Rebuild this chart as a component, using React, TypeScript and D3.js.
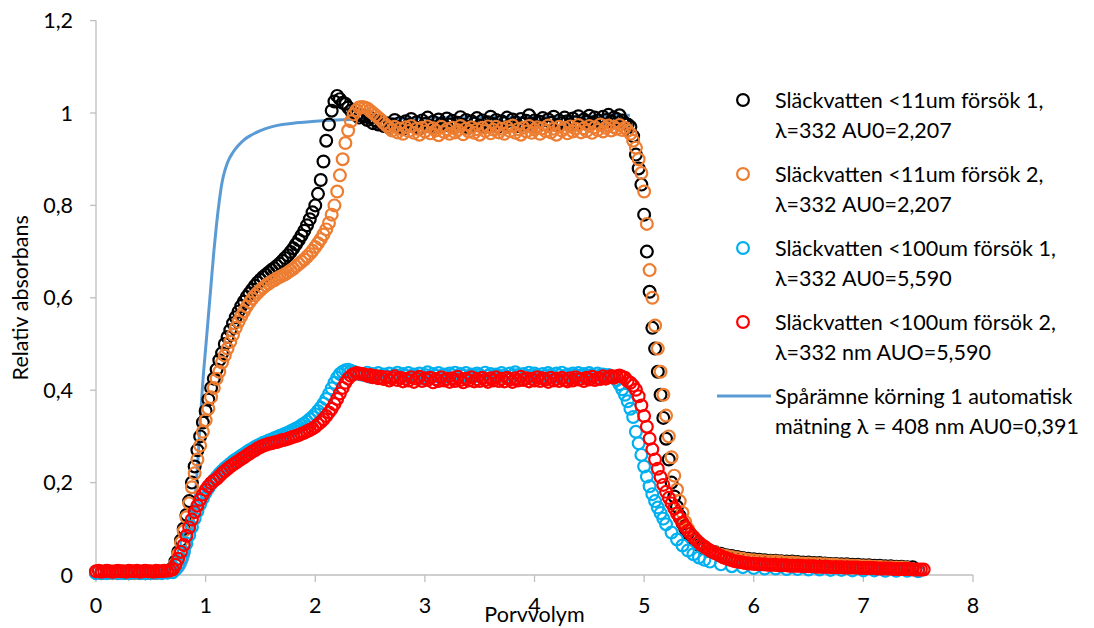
import React from "react";
import * as d3 from "d3";

type Pt = [number, number];

// Axis ticks
const xTicks = [0, 1, 2, 3, 4, 5, 6, 7, 8];
const yTicks = [0, 0.2, 0.4, 0.6, 0.8, 1, 1.2];
const yTickLabels = ["0", "0,2", "0,4", "0,6", "0,8", "1", "1,2"];

const xTitle = "Porvvolym";
const yTitle = "Relativ absorbans";

// Readings taken at a fixed pore-volume interval
function onGrid(start: number, step: number, values: number[]): Pt[] {
  return values.map((v, i) => [+(start + i * step).toFixed(4), v] as Pt);
}

const PLATEAU_START = 2.45;
const PLATEAU_STEP = 0.025;

// ---------- Släckvatten <11um försök 1 ----------
const fw11Run1Front: Pt[] = [
  [0, 0.006], [0.05, 0.005], [0.1, 0.005], [0.15, 0.006], [0.2, 0.005], [0.25, 0.005], [0.3, 0.004], [0.35, 0.005],
  [0.4, 0.005], [0.45, 0.004], [0.5, 0.005], [0.55, 0.005], [0.6, 0.006], [0.65, 0.008],
  [0.7, 0.015], [0.725, 0.03], [0.75, 0.05], [0.775, 0.075], [0.8, 0.1], [0.825, 0.13], [0.85, 0.16], [0.875, 0.2],
  [0.9, 0.235], [0.925, 0.27], [0.95, 0.3], [0.975, 0.33], [1, 0.355], [1.025, 0.38], [1.05, 0.405], [1.075, 0.425],
  [1.1, 0.445], [1.125, 0.465], [1.15, 0.48], [1.175, 0.5], [1.2, 0.515], [1.225, 0.53], [1.25, 0.545], [1.275, 0.558],
  [1.3, 0.57], [1.325, 0.582], [1.35, 0.592], [1.375, 0.602], [1.4, 0.61], [1.425, 0.618], [1.45, 0.626], [1.475, 0.633],
  [1.5, 0.639], [1.525, 0.645], [1.55, 0.65], [1.575, 0.655], [1.6, 0.66], [1.625, 0.664], [1.65, 0.669], [1.675, 0.674],
  [1.7, 0.68], [1.725, 0.686], [1.75, 0.692], [1.775, 0.699], [1.8, 0.707], [1.825, 0.716], [1.85, 0.725], [1.875, 0.735],
  [1.9, 0.745], [1.925, 0.757], [1.95, 0.77], [1.975, 0.785], [2, 0.8], [2.025, 0.825], [2.05, 0.855], [2.075, 0.895],
  [2.1, 0.94], [2.125, 0.975], [2.15, 1.005], [2.175, 1.025], [2.2, 1.037], [2.225, 1.03], [2.25, 1.022], [2.275, 1.02],
  [2.3, 1.012], [2.325, 1.005], [2.35, 1.0], [2.375, 0.995], [2.4, 0.99], [2.425, 0.995],
];
const fw11Run1Plateau = [
  0.992, 0.985, 0.99, 0.978, 0.984, 0.975, 0.981, 0.972,
  0.978, 0.968, 0.975, 0.985, 0.97, 0.979, 0.966, 0.982,
  0.974, 0.987, 0.971, 0.98, 0.967, 0.984, 0.976, 0.99,
  0.972, 0.981, 0.969, 0.986, 0.977, 0.973, 0.988, 0.975,
  0.983, 0.97, 0.979, 0.991, 0.974, 0.985, 0.968, 0.982,
  0.977, 0.989, 0.973, 0.984, 0.97, 0.98, 0.992, 0.976,
  0.985, 0.971, 0.982, 0.978, 0.99, 0.974, 0.986, 0.98,
  0.972, 0.987, 0.977, 0.983, 0.995, 0.976, 0.984, 0.97,
  0.981, 0.989, 0.975, 0.986, 0.979, 0.992, 0.974, 0.984,
  0.978, 0.99, 0.982, 0.975, 0.988, 0.98, 0.993, 0.977,
  0.986, 0.981, 0.994, 0.979, 0.99, 0.984, 0.977, 0.992,
  0.985, 0.996, 0.982, 0.99, 0.987, 0.995, 0.984, 0.978,
];
const fw11Run1Back: Pt[] = [
  [4.85, 0.975], [4.875, 0.97], [4.9, 0.95], [4.925, 0.91], [4.95, 0.88], [4.975, 0.845], [5, 0.78], [5.025, 0.7],
  [5.05, 0.613], [5.075, 0.535], [5.1, 0.49], [5.125, 0.44], [5.15, 0.39], [5.175, 0.34], [5.2, 0.295], [5.225, 0.25],
  [5.25, 0.2], [5.275, 0.17], [5.3, 0.148], [5.325, 0.128], [5.35, 0.112], [5.375, 0.1], [5.4, 0.09], [5.45, 0.077],
  [5.5, 0.065], [5.55, 0.058], [5.6, 0.052],
];
const fw11Run1Tail = [
  0.049, 0.046, 0.043, 0.041, 0.039, 0.037, 0.035, 0.034,
  0.033, 0.032, 0.031, 0.031, 0.03, 0.029, 0.029, 0.028,
  0.027, 0.027, 0.026, 0.026, 0.025, 0.024, 0.024, 0.023,
  0.023, 0.022, 0.022, 0.021, 0.021, 0.02, 0.02, 0.019,
  0.019, 0.018, 0.018, 0.017, 0.017,
];

// ---------- Släckvatten <11um försök 2 ----------
const fw11Run2Front: Pt[] = [
  [0, 0.004], [0.05, 0.004], [0.1, 0.005], [0.15, 0.004], [0.2, 0.004], [0.25, 0.005], [0.3, 0.004], [0.35, 0.004],
  [0.4, 0.005], [0.45, 0.004], [0.5, 0.004], [0.55, 0.005], [0.6, 0.005], [0.65, 0.007],
  [0.7, 0.012], [0.725, 0.025], [0.75, 0.045], [0.775, 0.07], [0.8, 0.095], [0.825, 0.125], [0.85, 0.155], [0.875, 0.19],
  [0.9, 0.22], [0.925, 0.25], [0.95, 0.28], [0.975, 0.31], [1, 0.335], [1.025, 0.36], [1.05, 0.385], [1.075, 0.405],
  [1.1, 0.425], [1.125, 0.44], [1.15, 0.46], [1.175, 0.475], [1.2, 0.49], [1.225, 0.505], [1.25, 0.52], [1.275, 0.535],
  [1.3, 0.548], [1.325, 0.56], [1.35, 0.571], [1.375, 0.581], [1.4, 0.59], [1.425, 0.598], [1.45, 0.605], [1.475, 0.611],
  [1.5, 0.617], [1.525, 0.622], [1.55, 0.627], [1.575, 0.631], [1.6, 0.635], [1.625, 0.638], [1.65, 0.642], [1.675, 0.645],
  [1.7, 0.648], [1.725, 0.651], [1.75, 0.655], [1.775, 0.659], [1.8, 0.663], [1.825, 0.668], [1.85, 0.673], [1.875, 0.678],
  [1.9, 0.683], [1.925, 0.689], [1.95, 0.695], [1.975, 0.702], [2, 0.71], [2.025, 0.718], [2.05, 0.727], [2.075, 0.737],
  [2.1, 0.748], [2.125, 0.762], [2.15, 0.78], [2.175, 0.8], [2.2, 0.83], [2.225, 0.865], [2.25, 0.9], [2.275, 0.935],
  [2.3, 0.962], [2.325, 0.982], [2.35, 0.997], [2.375, 1.006], [2.4, 1.012], [2.425, 1.013],
];
const fw11Run2Plateau = [
  1.012, 1.01, 1.005, 1.0, 0.995, 0.99, 0.985, 0.978,
  0.973, 0.968, 0.962, 0.97, 0.958, 0.966, 0.955, 0.969,
  0.961, 0.972, 0.957, 0.966, 0.953, 0.968, 0.96, 0.971,
  0.956, 0.967, 0.962, 0.952, 0.97, 0.959, 0.965, 0.955,
  0.968, 0.958, 0.963, 0.972, 0.954, 0.966, 0.96, 0.969,
  0.957, 0.965, 0.953, 0.968, 0.961, 0.971, 0.956, 0.964,
  0.97, 0.958, 0.966, 0.955, 0.969, 0.961, 0.973, 0.957,
  0.965, 0.953, 0.968, 0.96, 0.972, 0.957, 0.964, 0.969,
  0.955, 0.967, 0.961, 0.973, 0.958, 0.966, 0.953, 0.97,
  0.962, 0.968, 0.956, 0.971, 0.96, 0.966, 0.974, 0.958,
  0.967, 0.961, 0.972, 0.957, 0.969, 0.963, 0.975, 0.96,
  0.968, 0.973, 0.962, 0.97, 0.966, 0.974, 0.963, 0.968,
];
const fw11Run2Back: Pt[] = [
  [4.85, 0.962], [4.875, 0.955], [4.9, 0.94], [4.925, 0.925], [4.95, 0.9], [4.975, 0.87], [5, 0.83], [5.025, 0.76],
  [5.05, 0.66], [5.075, 0.6], [5.1, 0.54], [5.125, 0.49], [5.15, 0.44], [5.175, 0.39], [5.2, 0.345], [5.225, 0.3],
  [5.25, 0.255], [5.275, 0.215], [5.3, 0.185], [5.325, 0.16], [5.35, 0.135], [5.375, 0.115], [5.4, 0.1], [5.45, 0.083],
  [5.5, 0.07], [5.55, 0.061], [5.6, 0.053],
];
const fw11Run2Tail = [
  0.048, 0.044, 0.041, 0.039, 0.037, 0.035, 0.033, 0.032,
  0.031, 0.03, 0.029, 0.029, 0.028, 0.027, 0.027, 0.026,
  0.025, 0.025, 0.024, 0.024, 0.023, 0.022, 0.022, 0.021,
  0.021, 0.02, 0.02, 0.019, 0.019, 0.018, 0.018, 0.017,
  0.017, 0.016, 0.016, 0.015,
];

// ---------- Släckvatten <100um försök 1 ----------
const fw100Run1Front: Pt[] = [
  [0, 0.004], [0.05, 0.004], [0.1, 0.004], [0.15, 0.005], [0.2, 0.004], [0.25, 0.004], [0.3, 0.004], [0.35, 0.005],
  [0.4, 0.004], [0.45, 0.004], [0.5, 0.004], [0.55, 0.005], [0.6, 0.004], [0.65, 0.005],
  [0.7, 0.006], [0.725, 0.012], [0.75, 0.022], [0.775, 0.035], [0.8, 0.05], [0.825, 0.068], [0.85, 0.086], [0.875, 0.104],
  [0.9, 0.122], [0.925, 0.138], [0.95, 0.153], [0.975, 0.166], [1, 0.178], [1.025, 0.188], [1.05, 0.197], [1.075, 0.205],
  [1.1, 0.212], [1.125, 0.219], [1.15, 0.225], [1.175, 0.231], [1.2, 0.236], [1.225, 0.241], [1.25, 0.246], [1.275, 0.25],
  [1.3, 0.254], [1.325, 0.258], [1.35, 0.262], [1.375, 0.266], [1.4, 0.27], [1.425, 0.273], [1.45, 0.277], [1.475, 0.28],
  [1.5, 0.283], [1.525, 0.286], [1.55, 0.288], [1.575, 0.291], [1.6, 0.293], [1.625, 0.296], [1.65, 0.298], [1.675, 0.301],
  [1.7, 0.303], [1.725, 0.306], [1.75, 0.308], [1.775, 0.311], [1.8, 0.314], [1.825, 0.317], [1.85, 0.32], [1.875, 0.324],
  [1.9, 0.328], [1.925, 0.332], [1.95, 0.337], [1.975, 0.342], [2, 0.348], [2.025, 0.355], [2.05, 0.362], [2.075, 0.371],
  [2.1, 0.381], [2.125, 0.392], [2.15, 0.404], [2.175, 0.416], [2.2, 0.427], [2.225, 0.435], [2.25, 0.44], [2.275, 0.443],
  [2.3, 0.444], [2.325, 0.442], [2.35, 0.44], [2.375, 0.437], [2.4, 0.435], [2.425, 0.434],
];
const fw100Run1Plateau = [
  0.433, 0.438, 0.429, 0.435, 0.431, 0.437, 0.428, 0.434,
  0.43, 0.436, 0.427, 0.433, 0.438, 0.429, 0.435, 0.431,
  0.437, 0.428, 0.434, 0.43, 0.436, 0.426, 0.433, 0.439,
  0.429, 0.435, 0.431, 0.437, 0.427, 0.434, 0.43, 0.436,
  0.432, 0.438, 0.428, 0.435, 0.431, 0.437, 0.429, 0.434,
  0.43, 0.436, 0.433, 0.428, 0.438, 0.431, 0.435, 0.429,
  0.434, 0.43, 0.437, 0.432, 0.428, 0.436, 0.431, 0.439,
  0.433, 0.429, 0.435, 0.431, 0.438, 0.43, 0.436, 0.432,
  0.428, 0.435, 0.431, 0.437, 0.433, 0.429, 0.436, 0.432,
  0.438, 0.43, 0.434, 0.429, 0.436, 0.432, 0.437, 0.431,
  0.435, 0.43, 0.437, 0.433, 0.429, 0.436, 0.432, 0.434,
];
const fw100Run1Back: Pt[] = [
  [4.65, 0.432], [4.675, 0.433], [4.7, 0.43], [4.725, 0.428], [4.75, 0.422], [4.775, 0.413], [4.8, 0.402], [4.825, 0.39],
  [4.85, 0.376], [4.875, 0.36], [4.9, 0.342], [4.925, 0.31], [4.95, 0.285], [4.975, 0.26], [5, 0.235], [5.025, 0.213],
  [5.05, 0.192], [5.075, 0.175], [5.1, 0.16], [5.125, 0.146], [5.15, 0.134], [5.175, 0.122], [5.2, 0.11], [5.25, 0.092],
  [5.3, 0.077], [5.35, 0.064], [5.4, 0.053], [5.45, 0.045], [5.5, 0.038], [5.55, 0.033], [5.6, 0.029], [5.7, 0.023],
  [5.8, 0.019], [5.9, 0.017], [6, 0.015], [6.1, 0.014], [6.2, 0.014], [6.3, 0.013], [6.4, 0.013], [6.5, 0.012],
  [6.6, 0.012], [6.7, 0.011], [6.8, 0.011], [6.9, 0.01], [7, 0.01], [7.1, 0.01], [7.2, 0.009], [7.3, 0.009],
  [7.4, 0.009], [7.5, 0.008],
];

// ---------- Släckvatten <100um försök 2 ----------
const fw100Run2Base = [
  0.008, 0.009, 0.007, 0.008, 0.009, 0.008, 0.007, 0.008,
  0.009, 0.008, 0.008, 0.007, 0.009, 0.008, 0.008, 0.009,
  0.007, 0.008, 0.009, 0.008, 0.008, 0.007, 0.009, 0.008,
  0.008, 0.009, 0.009, 0.01,
];
const fw100Run2Front: Pt[] = [
  [0.7, 0.012], [0.725, 0.022], [0.75, 0.035], [0.775, 0.05], [0.8, 0.065], [0.825, 0.085], [0.85, 0.103], [0.875, 0.12],
  [0.9, 0.136], [0.925, 0.15], [0.95, 0.163], [0.975, 0.174], [1, 0.184], [1.025, 0.192], [1.05, 0.199], [1.075, 0.204],
  [1.1, 0.208], [1.125, 0.214], [1.15, 0.22], [1.175, 0.225], [1.2, 0.23], [1.225, 0.235], [1.25, 0.239], [1.275, 0.243],
  [1.3, 0.247], [1.325, 0.251], [1.35, 0.255], [1.375, 0.259], [1.4, 0.263], [1.425, 0.267], [1.45, 0.27], [1.475, 0.274],
  [1.5, 0.277], [1.525, 0.28], [1.55, 0.282], [1.575, 0.284], [1.6, 0.285], [1.625, 0.287], [1.65, 0.288], [1.675, 0.29],
  [1.7, 0.292], [1.725, 0.293], [1.75, 0.295], [1.775, 0.297], [1.8, 0.299], [1.825, 0.301], [1.85, 0.303], [1.875, 0.306],
  [1.9, 0.308], [1.925, 0.311], [1.95, 0.314], [1.975, 0.317], [2, 0.321], [2.025, 0.326], [2.05, 0.331], [2.075, 0.337],
  [2.1, 0.344], [2.125, 0.352], [2.15, 0.36], [2.175, 0.37], [2.2, 0.381], [2.225, 0.393], [2.25, 0.405], [2.275, 0.416],
  [2.3, 0.425], [2.325, 0.431], [2.35, 0.435], [2.375, 0.437], [2.4, 0.436], [2.425, 0.435],
];
const fw100Run2Plateau = [
  0.434, 0.431, 0.433, 0.428, 0.431, 0.426, 0.429, 0.424,
  0.428, 0.421, 0.426, 0.43, 0.422, 0.427, 0.419, 0.425,
  0.421, 0.428, 0.418, 0.425, 0.429, 0.42, 0.426, 0.422,
  0.427, 0.417, 0.424, 0.42, 0.428, 0.421, 0.425, 0.418,
  0.426, 0.42, 0.429, 0.422, 0.417, 0.425, 0.421, 0.428,
  0.419, 0.424, 0.42, 0.427, 0.422, 0.418, 0.426, 0.421,
  0.428, 0.42, 0.425, 0.419, 0.427, 0.423, 0.418, 0.426,
  0.421, 0.429, 0.422, 0.426, 0.419, 0.425, 0.421, 0.428,
  0.42, 0.426, 0.423, 0.418, 0.427, 0.421, 0.425, 0.42,
  0.427, 0.422, 0.419, 0.426, 0.421, 0.428, 0.423, 0.425,
  0.42, 0.427, 0.423, 0.429, 0.422, 0.426, 0.424, 0.43,
  0.425, 0.428, 0.431, 0.427, 0.43, 0.432, 0.429, 0.427,
];
const fw100Run2Back: Pt[] = [
  [4.85, 0.42], [4.875, 0.416], [4.9, 0.41], [4.925, 0.401], [4.95, 0.387], [4.975, 0.367], [5, 0.344], [5.025, 0.321],
  [5.05, 0.295], [5.075, 0.272], [5.1, 0.25], [5.125, 0.23], [5.15, 0.212], [5.175, 0.195], [5.2, 0.18], [5.225, 0.167],
  [5.25, 0.155], [5.275, 0.144], [5.3, 0.133], [5.325, 0.123], [5.35, 0.113], [5.375, 0.104], [5.4, 0.096], [5.425, 0.089],
  [5.45, 0.082], [5.475, 0.076], [5.5, 0.07], [5.525, 0.065], [5.55, 0.061], [5.575, 0.057], [5.6, 0.053],
];
const fw100Run2Tail = [
  0.05, 0.047, 0.044, 0.041, 0.038, 0.036, 0.034, 0.032,
  0.03, 0.029, 0.028, 0.027, 0.026, 0.025, 0.025, 0.024,
  0.024, 0.023, 0.023, 0.023, 0.022, 0.022, 0.022, 0.022,
  0.021, 0.021, 0.021, 0.021, 0.02, 0.02, 0.02, 0.02,
  0.02, 0.019, 0.019, 0.019, 0.019, 0.019, 0.018, 0.018,
  0.018, 0.018, 0.018, 0.017, 0.017, 0.017, 0.017, 0.017,
  0.016, 0.016, 0.016, 0.016, 0.016, 0.016, 0.015, 0.015,
  0.015, 0.015, 0.015, 0.015, 0.014, 0.014, 0.014, 0.014,
  0.014, 0.014, 0.013, 0.013, 0.013, 0.013, 0.013, 0.013,
  0.013, 0.012, 0.012, 0.012, 0.012, 0.012,
];

// ---------- Spårämne körning 1 (automatic measurement, drawn as a line) ----------
const tracerRun1: Pt[] = [
  [0, 0], [0.3, 0.001], [0.6, 0.002], [0.75, 0.004], [0.8, 0.015], [0.85, 0.05], [0.875, 0.09], [0.9, 0.15],
  [0.925, 0.23], [0.95, 0.33], [0.975, 0.42], [1, 0.49], [1.025, 0.56], [1.05, 0.63], [1.075, 0.7], [1.1, 0.76],
  [1.125, 0.81], [1.15, 0.85], [1.175, 0.875], [1.2, 0.893], [1.25, 0.915], [1.3, 0.93], [1.35, 0.942], [1.4, 0.95],
  [1.5, 0.962], [1.6, 0.97], [1.7, 0.975], [1.8, 0.978], [1.9, 0.98], [2, 0.982], [2.2, 0.985], [2.5, 0.987],
  [3, 0.989], [3.5, 0.99], [4, 0.991], [4.5, 0.993], [4.87, 0.995],
];

const fw11Run1: Pt[] = [
  ...fw11Run1Front,
  ...onGrid(PLATEAU_START, PLATEAU_STEP, fw11Run1Plateau),
  ...fw11Run1Back,
  ...onGrid(5.65, 0.05, fw11Run1Tail),
];
const fw11Run2: Pt[] = [
  ...fw11Run2Front,
  ...onGrid(PLATEAU_START, PLATEAU_STEP, fw11Run2Plateau),
  ...fw11Run2Back,
  ...onGrid(5.65, 0.05, fw11Run2Tail),
];
const fw100Run1: Pt[] = [...fw100Run1Front, ...onGrid(PLATEAU_START, PLATEAU_STEP, fw100Run1Plateau), ...fw100Run1Back];
const fw100Run2: Pt[] = [
  ...onGrid(0, 0.025, fw100Run2Base),
  ...fw100Run2Front,
  ...onGrid(PLATEAU_START, PLATEAU_STEP, fw100Run2Plateau),
  ...fw100Run2Back,
  ...onGrid(5.625, 0.025, fw100Run2Tail),
];

const scatterSeries = [
  { data: fw11Run1, color: "#000000" },
  { data: fw11Run2, color: "#ED7D31" },
  { data: fw100Run1, color: "#00B0F0" },
  { data: fw100Run2, color: "#FF0000" },
];

const legendItems = [
  { kind: "marker", color: "#000000", lines: ["Släckvatten <11um försök 1,", "λ=332 AU0=2,207"] },
  { kind: "marker", color: "#ED7D31", lines: ["Släckvatten <11um försök 2,", "λ=332 AU0=2,207"] },
  { kind: "marker", color: "#00B0F0", lines: ["Släckvatten <100um försök 1,", "λ=332 AU0=5,590"] },
  { kind: "marker", color: "#FF0000", lines: ["Släckvatten <100um försök 2,", "λ=332 nm AUO=5,590"] },
  { kind: "line", color: "#5B9BD5", lines: ["Spårämne körning 1 automatisk", "mätning λ = 408 nm AU0=0,391"] },
];

const W = 1094;
const H = 628;
const margin = { left: 96, right: 121, top: 20.6, bottom: 53 };
const FONT = "Lato, 'Open Sans', sans-serif";
const AXIS_COLOR = "#BFBFBF";
const R = 5.9;
const MARKER_STROKE = 2.2;
const FS = 21.5;

export default function App() {
  const x = d3.scaleLinear().domain([0, 8]).range([margin.left, W - margin.right]);
  const y = d3.scaleLinear().domain([0, 1.2]).range([H - margin.bottom, margin.top]);
  const line = d3
    .line<Pt>()
    .x((d) => x(d[0]))
    .y((d) => y(d[1]))
    .curve(d3.curveMonotoneX);

  const y0 = y(0);
  const legendX = 743;
  const legendTextX = 775;
  const legendTop = 100;
  const legendStep = 74;
  const lineGap = 30;

  return (
    <svg
      width={W}
      height={H}
      style={{ position: "absolute", left: 0, top: 0, background: "#fff" }}
      fontFamily={FONT}
    >
      <rect width={W} height={H} fill="#fff" />
      {/* axes */}
      <line x1={x(0)} x2={x(0)} y1={y(1.2)} y2={y0} stroke={AXIS_COLOR} strokeWidth={1.3} />
      {yTicks.map((t, i) => (
        <g key={`yt${i}`}>
          <line x1={x(0) - 6} x2={x(0)} y1={y(t)} y2={y(t)} stroke={AXIS_COLOR} strokeWidth={1.3} />
          <text x={x(0) - 23} y={y(t)} dy="0.35em" textAnchor="end" fontSize={FS} fill="#000">
            {yTickLabels[i]}
          </text>
        </g>
      ))}
      <line x1={x(0)} x2={x(8)} y1={y0} y2={y0} stroke={AXIS_COLOR} strokeWidth={1.3} />
      {xTicks.map((t) => (
        <g key={`xt${t}`}>
          <line x1={x(t)} x2={x(t)} y1={y0} y2={y0 + 7} stroke={AXIS_COLOR} strokeWidth={1.3} />
          <text x={x(t)} y={y0 + 38} textAnchor="middle" fontSize={FS} fill="#000">
            {t}
          </text>
        </g>
      ))}
      <text x={(x(0) + x(8)) / 2} y={H - 6} textAnchor="middle" fontSize={FS} fill="#000">
        {xTitle}
      </text>
      <text
        transform={`translate(${28},${(y(0) + y(1.2)) / 2}) rotate(-90)`}
        textAnchor="middle"
        fontSize={FS}
        fill="#000"
      >
        {yTitle}
      </text>

      {/* tracer line */}
      <path d={line(tracerRun1) ?? ""} fill="none" stroke="#5B9BD5" strokeWidth={3} />

      {/* marker series */}
      {scatterSeries.map((s, si) => (
        <g key={`s${si}`}>
          {s.data.map((d, i) => (
            <circle key={i} cx={x(d[0])} cy={y(d[1])} r={R} fill="none" stroke={s.color} strokeWidth={MARKER_STROKE} />
          ))}
        </g>
      ))}

      {/* legend */}
      {legendItems.map((item, i) => {
        const cy = legendTop + i * legendStep;
        return (
          <g key={`lg${i}`}>
            {item.kind === "marker" ? (
              <circle cx={legendX} cy={cy} r={R} fill="none" stroke={item.color} strokeWidth={MARKER_STROKE} />
            ) : (
              <line x1={717} x2={771} y1={cy} y2={cy} stroke={item.color} strokeWidth={3} />
            )}
            {item.lines.map((t, j) => (
              <text key={j} x={legendTextX} y={cy + j * lineGap} dy="0.35em" fontSize={FS} fill="#000">
                {t}
              </text>
            ))}
          </g>
        );
      })}
    </svg>
  );
}
